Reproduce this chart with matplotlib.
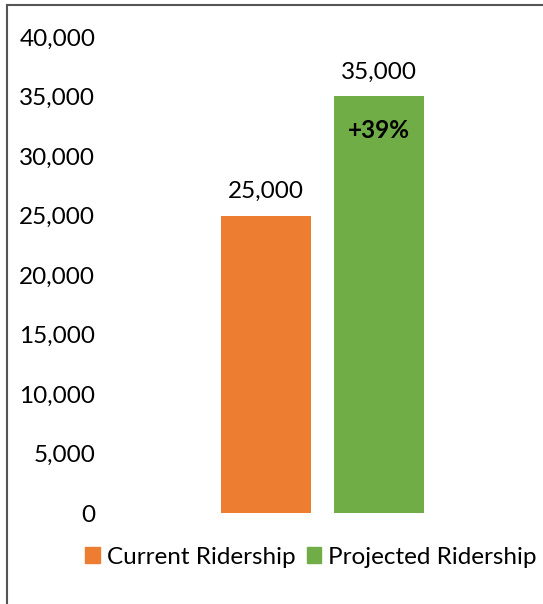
import matplotlib.pyplot as plt
from matplotlib.lines import Line2D
from matplotlib.ticker import FuncFormatter, MultipleLocator

plt.rcParams['font.family'] = ['Lato', 'DejaVu Sans']

labels = ['Current Ridership', 'Projected Ridership']
values = [25000, 35000]
colors = ['#ED7D31', '#70AD47']
change_label = '+39%'

W, H = 543, 604
fig = plt.figure(figsize=(W / 100, H / 100), dpi=100)

# plot area in pixel units
left, right, bottom, top = 105, 540, 604 - 513, 604 - 37
ax = fig.add_axes([left / W, bottom / H, (right - left) / W, (top - bottom) / H])

x = [0, 1]
bars = ax.bar(x, values, width=0.8, color=colors)
ax.set_ylim(0, 40000)
span = (right - left) / 113.0
ax.set_xlim(0.5 - span / 2, 0.5 + span / 2)
ax.yaxis.set_major_locator(MultipleLocator(5000))
ax.yaxis.set_major_formatter(FuncFormatter(lambda v, p: f'{int(v):,}'))
ax.tick_params(axis='y', length=0, labelsize=17.5, pad=7)
ax.set_xticks([])
for s in ax.spines.values():
    s.set_visible(False)

for b, v in zip(bars, values):
    ax.annotate(f'{v:,}', (b.get_x() + b.get_width() / 2, v), xytext=(0, 10),
                textcoords='offset points', ha='center', va='bottom', fontsize=17.5)

g = bars[1]
ax.annotate(change_label, (g.get_x() + g.get_width() / 2, values[1]), xytext=(0, -16),
            textcoords='offset points', ha='center', va='top', fontsize=17.5,
            fontweight='bold')

handles = [plt.Rectangle((0, 0), 1, 1, color=c) for c in colors]
fig.legend(handles, labels, loc='center', bbox_to_anchor=(311 / W, 1 - 557 / H),
           ncol=2, frameon=False, fontsize=17.5, handlelength=0.6, handleheight=0.6,
           handletextpad=0.3, columnspacing=0.45, borderpad=0, borderaxespad=0)

# chart frame (partially visible)
fig.add_artist(Line2D([7 / W, 7 / W], [0, 1 - 5 / H], color='#555555', lw=1.5))
fig.add_artist(Line2D([7 / W, 1], [1 - 5 / H, 1 - 5 / H], color='#555555', lw=1.5))

fig.savefig('out.png', dpi=100)
